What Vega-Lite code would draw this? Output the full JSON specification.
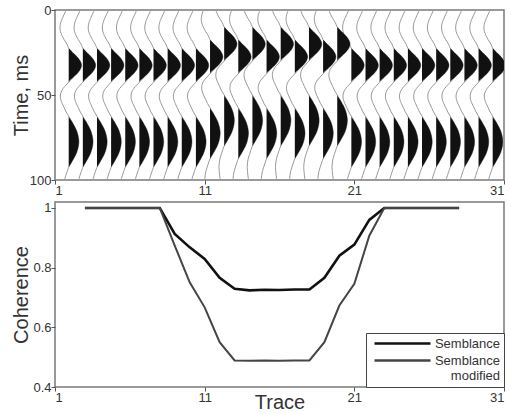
{
"$schema":"https://vega.github.io/schema/vega-lite/v6.json",
"background":"white",
"padding":{"left":10,"top":3,"right":0,"bottom":0},
"config":{"font":"Liberation Sans","view":{"stroke":"#7a7a7a","strokeWidth":1.5},
"axis":{"domain":false,"grid":false,"labelFont":"Liberation Sans","labelFontSize":13,"labelColor":"#333","tickColor":"#555","tickSize":4,"labelPadding":0,"titleFont":"Liberation Sans","titleFontSize":20,"titleFontWeight":"normal","titleColor":"#333"}},
"datasets":{
"c":[
{"u":3,"s":"Semblance","v":1},{"u":4,"s":"Semblance","v":1},{"u":5,"s":"Semblance","v":1},{"u":6,"s":"Semblance","v":1},{"u":7,"s":"Semblance","v":1},{"u":8,"s":"Semblance","v":1},{"u":9,"s":"Semblance","v":0.913},{"u":10,"s":"Semblance","v":0.868},{"u":11,"s":"Semblance","v":0.829},{"u":12,"s":"Semblance","v":0.766},{"u":13,"s":"Semblance","v":0.729},{"u":14,"s":"Semblance","v":0.724},{"u":15,"s":"Semblance","v":0.726},{"u":16,"s":"Semblance","v":0.725},{"u":17,"s":"Semblance","v":0.727},{"u":18,"s":"Semblance","v":0.727},{"u":19,"s":"Semblance","v":0.766},{"u":20,"s":"Semblance","v":0.84},{"u":21,"s":"Semblance","v":0.877},{"u":22,"s":"Semblance","v":0.96},{"u":23,"s":"Semblance","v":1},{"u":24,"s":"Semblance","v":1},{"u":25,"s":"Semblance","v":1},{"u":26,"s":"Semblance","v":1},{"u":27,"s":"Semblance","v":1},{"u":28,"s":"Semblance","v":1},
{"u":3,"s":"Semblance modified","v":1},{"u":4,"s":"Semblance modified","v":1},{"u":5,"s":"Semblance modified","v":1},{"u":6,"s":"Semblance modified","v":1},{"u":7,"s":"Semblance modified","v":1},{"u":8,"s":"Semblance modified","v":1},{"u":9,"s":"Semblance modified","v":0.874},{"u":10,"s":"Semblance modified","v":0.751},{"u":11,"s":"Semblance modified","v":0.667},{"u":12,"s":"Semblance modified","v":0.55},{"u":13,"s":"Semblance modified","v":0.489},{"u":14,"s":"Semblance modified","v":0.488},{"u":15,"s":"Semblance modified","v":0.489},{"u":16,"s":"Semblance modified","v":0.488},{"u":17,"s":"Semblance modified","v":0.489},{"u":18,"s":"Semblance modified","v":0.489},{"u":19,"s":"Semblance modified","v":0.55},{"u":20,"s":"Semblance modified","v":0.673},{"u":21,"s":"Semblance modified","v":0.746},{"u":22,"s":"Semblance modified","v":0.907},{"u":23,"s":"Semblance modified","v":1},{"u":24,"s":"Semblance modified","v":1},{"u":25,"s":"Semblance modified","v":1},{"u":26,"s":"Semblance modified","v":1},{"u":27,"s":"Semblance modified","v":1},{"u":28,"s":"Semblance modified","v":1}
],
"w":[
{"k":1,"t":0,"x":0.82},{"k":1,"t":2.5,"x":0.68},{"k":1,"t":5,"x":0.54},{"k":1,"t":7.5,"x":0.43},{"k":1,"t":10,"x":0.38},{"k":1,"t":12.5,"x":0.41},{"k":1,"t":15,"x":0.52},{"k":1,"t":17.5,"x":0.68},{"k":1,"t":20,"x":0.87},{"k":1,"t":22.5,"x":1},{"k":1,"t":25,"x":1.28},{"k":1,"t":27.5,"x":1.59},{"k":1,"t":30,"x":1.81},{"k":1,"t":32.5,"x":1.91},{"k":1,"t":35,"x":1.82},{"k":1,"t":37.5,"x":1.59},{"k":1,"t":40,"x":1.27},{"k":1,"t":42.5,"x":1},{"k":1,"t":45,"x":0.72},{"k":1,"t":47.5,"x":0.5},{"k":1,"t":50,"x":0.41},{"k":1,"t":52.5,"x":0.43},{"k":1,"t":55,"x":0.54},{"k":1,"t":57.5,"x":0.68},{"k":1,"t":60,"x":0.82},{"k":1,"t":62.5,"x":1},{"k":1,"t":65,"x":1.18},{"k":1,"t":67.5,"x":1.35},{"k":1,"t":70,"x":1.51},{"k":1,"t":72.5,"x":1.62},{"k":1,"t":75,"x":1.69},{"k":1,"t":77.5,"x":1.72},{"k":1,"t":80,"x":1.69},{"k":1,"t":82.5,"x":1.62},{"k":1,"t":85,"x":1.51},{"k":1,"t":87.5,"x":1.35},{"k":1,"t":90,"x":1.18},{"k":1,"t":92.5,"x":1},{"k":1,"t":95,"x":0.89},{"k":1,"t":97.5,"x":0.79},{"k":1,"t":100,"x":0.7},
{"k":2,"t":0,"x":1.82},{"k":2,"t":2.5,"x":1.68},{"k":2,"t":5,"x":1.54},{"k":2,"t":7.5,"x":1.43},{"k":2,"t":10,"x":1.38},{"k":2,"t":12.5,"x":1.41},{"k":2,"t":15,"x":1.52},{"k":2,"t":17.5,"x":1.68},{"k":2,"t":20,"x":1.87},{"k":2,"t":22.5,"x":2},{"k":2,"t":25,"x":2.28},{"k":2,"t":27.5,"x":2.59},{"k":2,"t":30,"x":2.81},{"k":2,"t":32.5,"x":2.91},{"k":2,"t":35,"x":2.82},{"k":2,"t":37.5,"x":2.59},{"k":2,"t":40,"x":2.27},{"k":2,"t":42.5,"x":2},{"k":2,"t":45,"x":1.72},{"k":2,"t":47.5,"x":1.5},{"k":2,"t":50,"x":1.41},{"k":2,"t":52.5,"x":1.43},{"k":2,"t":55,"x":1.54},{"k":2,"t":57.5,"x":1.68},{"k":2,"t":60,"x":1.82},{"k":2,"t":62.5,"x":2},{"k":2,"t":65,"x":2.18},{"k":2,"t":67.5,"x":2.35},{"k":2,"t":70,"x":2.51},{"k":2,"t":72.5,"x":2.62},{"k":2,"t":75,"x":2.69},{"k":2,"t":77.5,"x":2.72},{"k":2,"t":80,"x":2.69},{"k":2,"t":82.5,"x":2.62},{"k":2,"t":85,"x":2.51},{"k":2,"t":87.5,"x":2.35},{"k":2,"t":90,"x":2.18},{"k":2,"t":92.5,"x":2},{"k":2,"t":95,"x":1.89},{"k":2,"t":97.5,"x":1.79},{"k":2,"t":100,"x":1.7},
{"k":3,"t":0,"x":2.82},{"k":3,"t":2.5,"x":2.68},{"k":3,"t":5,"x":2.54},{"k":3,"t":7.5,"x":2.43},{"k":3,"t":10,"x":2.38},{"k":3,"t":12.5,"x":2.41},{"k":3,"t":15,"x":2.52},{"k":3,"t":17.5,"x":2.68},{"k":3,"t":20,"x":2.87},{"k":3,"t":22.5,"x":3},{"k":3,"t":25,"x":3.28},{"k":3,"t":27.5,"x":3.59},{"k":3,"t":30,"x":3.81},{"k":3,"t":32.5,"x":3.91},{"k":3,"t":35,"x":3.82},{"k":3,"t":37.5,"x":3.59},{"k":3,"t":40,"x":3.27},{"k":3,"t":42.5,"x":3},{"k":3,"t":45,"x":2.72},{"k":3,"t":47.5,"x":2.5},{"k":3,"t":50,"x":2.41},{"k":3,"t":52.5,"x":2.43},{"k":3,"t":55,"x":2.54},{"k":3,"t":57.5,"x":2.68},{"k":3,"t":60,"x":2.82},{"k":3,"t":62.5,"x":3},{"k":3,"t":65,"x":3.18},{"k":3,"t":67.5,"x":3.35},{"k":3,"t":70,"x":3.51},{"k":3,"t":72.5,"x":3.62},{"k":3,"t":75,"x":3.69},{"k":3,"t":77.5,"x":3.72},{"k":3,"t":80,"x":3.69},{"k":3,"t":82.5,"x":3.62},{"k":3,"t":85,"x":3.51},{"k":3,"t":87.5,"x":3.35},{"k":3,"t":90,"x":3.18},{"k":3,"t":92.5,"x":3},{"k":3,"t":95,"x":2.89},{"k":3,"t":97.5,"x":2.79},{"k":3,"t":100,"x":2.7},
{"k":4,"t":0,"x":3.82},{"k":4,"t":2.5,"x":3.68},{"k":4,"t":5,"x":3.54},{"k":4,"t":7.5,"x":3.43},{"k":4,"t":10,"x":3.38},{"k":4,"t":12.5,"x":3.41},{"k":4,"t":15,"x":3.52},{"k":4,"t":17.5,"x":3.68},{"k":4,"t":20,"x":3.87},{"k":4,"t":22.5,"x":4},{"k":4,"t":25,"x":4.28},{"k":4,"t":27.5,"x":4.59},{"k":4,"t":30,"x":4.81},{"k":4,"t":32.5,"x":4.91},{"k":4,"t":35,"x":4.82},{"k":4,"t":37.5,"x":4.59},{"k":4,"t":40,"x":4.27},{"k":4,"t":42.5,"x":4},{"k":4,"t":45,"x":3.72},{"k":4,"t":47.5,"x":3.5},{"k":4,"t":50,"x":3.41},{"k":4,"t":52.5,"x":3.43},{"k":4,"t":55,"x":3.54},{"k":4,"t":57.5,"x":3.68},{"k":4,"t":60,"x":3.82},{"k":4,"t":62.5,"x":4},{"k":4,"t":65,"x":4.18},{"k":4,"t":67.5,"x":4.35},{"k":4,"t":70,"x":4.51},{"k":4,"t":72.5,"x":4.62},{"k":4,"t":75,"x":4.69},{"k":4,"t":77.5,"x":4.72},{"k":4,"t":80,"x":4.69},{"k":4,"t":82.5,"x":4.62},{"k":4,"t":85,"x":4.51},{"k":4,"t":87.5,"x":4.35},{"k":4,"t":90,"x":4.18},{"k":4,"t":92.5,"x":4},{"k":4,"t":95,"x":3.89},{"k":4,"t":97.5,"x":3.79},{"k":4,"t":100,"x":3.7},
{"k":5,"t":0,"x":4.82},{"k":5,"t":2.5,"x":4.68},{"k":5,"t":5,"x":4.54},{"k":5,"t":7.5,"x":4.43},{"k":5,"t":10,"x":4.38},{"k":5,"t":12.5,"x":4.41},{"k":5,"t":15,"x":4.52},{"k":5,"t":17.5,"x":4.68},{"k":5,"t":20,"x":4.87},{"k":5,"t":22.5,"x":5},{"k":5,"t":25,"x":5.28},{"k":5,"t":27.5,"x":5.59},{"k":5,"t":30,"x":5.81},{"k":5,"t":32.5,"x":5.91},{"k":5,"t":35,"x":5.82},{"k":5,"t":37.5,"x":5.59},{"k":5,"t":40,"x":5.27},{"k":5,"t":42.5,"x":5},{"k":5,"t":45,"x":4.72},{"k":5,"t":47.5,"x":4.5},{"k":5,"t":50,"x":4.41},{"k":5,"t":52.5,"x":4.43},{"k":5,"t":55,"x":4.54},{"k":5,"t":57.5,"x":4.68},{"k":5,"t":60,"x":4.82},{"k":5,"t":62.5,"x":5},{"k":5,"t":65,"x":5.18},{"k":5,"t":67.5,"x":5.35},{"k":5,"t":70,"x":5.51},{"k":5,"t":72.5,"x":5.62},{"k":5,"t":75,"x":5.69},{"k":5,"t":77.5,"x":5.72},{"k":5,"t":80,"x":5.69},{"k":5,"t":82.5,"x":5.62},{"k":5,"t":85,"x":5.51},{"k":5,"t":87.5,"x":5.35},{"k":5,"t":90,"x":5.18},{"k":5,"t":92.5,"x":5},{"k":5,"t":95,"x":4.89},{"k":5,"t":97.5,"x":4.79},{"k":5,"t":100,"x":4.7},
{"k":6,"t":0,"x":5.82},{"k":6,"t":2.5,"x":5.68},{"k":6,"t":5,"x":5.54},{"k":6,"t":7.5,"x":5.43},{"k":6,"t":10,"x":5.38},{"k":6,"t":12.5,"x":5.41},{"k":6,"t":15,"x":5.52},{"k":6,"t":17.5,"x":5.68},{"k":6,"t":20,"x":5.87},{"k":6,"t":22.5,"x":6},{"k":6,"t":25,"x":6.28},{"k":6,"t":27.5,"x":6.59},{"k":6,"t":30,"x":6.81},{"k":6,"t":32.5,"x":6.91},{"k":6,"t":35,"x":6.82},{"k":6,"t":37.5,"x":6.59},{"k":6,"t":40,"x":6.27},{"k":6,"t":42.5,"x":6},{"k":6,"t":45,"x":5.72},{"k":6,"t":47.5,"x":5.5},{"k":6,"t":50,"x":5.41},{"k":6,"t":52.5,"x":5.43},{"k":6,"t":55,"x":5.54},{"k":6,"t":57.5,"x":5.68},{"k":6,"t":60,"x":5.82},{"k":6,"t":62.5,"x":6},{"k":6,"t":65,"x":6.18},{"k":6,"t":67.5,"x":6.35},{"k":6,"t":70,"x":6.51},{"k":6,"t":72.5,"x":6.62},{"k":6,"t":75,"x":6.69},{"k":6,"t":77.5,"x":6.72},{"k":6,"t":80,"x":6.69},{"k":6,"t":82.5,"x":6.62},{"k":6,"t":85,"x":6.51},{"k":6,"t":87.5,"x":6.35},{"k":6,"t":90,"x":6.18},{"k":6,"t":92.5,"x":6},{"k":6,"t":95,"x":5.89},{"k":6,"t":97.5,"x":5.79},{"k":6,"t":100,"x":5.7},
{"k":7,"t":0,"x":6.82},{"k":7,"t":2.5,"x":6.68},{"k":7,"t":5,"x":6.54},{"k":7,"t":7.5,"x":6.43},{"k":7,"t":10,"x":6.38},{"k":7,"t":12.5,"x":6.41},{"k":7,"t":15,"x":6.52},{"k":7,"t":17.5,"x":6.68},{"k":7,"t":20,"x":6.87},{"k":7,"t":22.5,"x":7},{"k":7,"t":25,"x":7.28},{"k":7,"t":27.5,"x":7.59},{"k":7,"t":30,"x":7.81},{"k":7,"t":32.5,"x":7.91},{"k":7,"t":35,"x":7.82},{"k":7,"t":37.5,"x":7.59},{"k":7,"t":40,"x":7.27},{"k":7,"t":42.5,"x":7},{"k":7,"t":45,"x":6.72},{"k":7,"t":47.5,"x":6.5},{"k":7,"t":50,"x":6.41},{"k":7,"t":52.5,"x":6.43},{"k":7,"t":55,"x":6.54},{"k":7,"t":57.5,"x":6.68},{"k":7,"t":60,"x":6.82},{"k":7,"t":62.5,"x":7},{"k":7,"t":65,"x":7.18},{"k":7,"t":67.5,"x":7.35},{"k":7,"t":70,"x":7.51},{"k":7,"t":72.5,"x":7.62},{"k":7,"t":75,"x":7.69},{"k":7,"t":77.5,"x":7.72},{"k":7,"t":80,"x":7.69},{"k":7,"t":82.5,"x":7.62},{"k":7,"t":85,"x":7.51},{"k":7,"t":87.5,"x":7.35},{"k":7,"t":90,"x":7.18},{"k":7,"t":92.5,"x":7},{"k":7,"t":95,"x":6.89},{"k":7,"t":97.5,"x":6.79},{"k":7,"t":100,"x":6.7},
{"k":8,"t":0,"x":7.82},{"k":8,"t":2.5,"x":7.68},{"k":8,"t":5,"x":7.54},{"k":8,"t":7.5,"x":7.43},{"k":8,"t":10,"x":7.38},{"k":8,"t":12.5,"x":7.41},{"k":8,"t":15,"x":7.52},{"k":8,"t":17.5,"x":7.68},{"k":8,"t":20,"x":7.87},{"k":8,"t":22.5,"x":8},{"k":8,"t":25,"x":8.28},{"k":8,"t":27.5,"x":8.59},{"k":8,"t":30,"x":8.81},{"k":8,"t":32.5,"x":8.91},{"k":8,"t":35,"x":8.82},{"k":8,"t":37.5,"x":8.59},{"k":8,"t":40,"x":8.27},{"k":8,"t":42.5,"x":8},{"k":8,"t":45,"x":7.72},{"k":8,"t":47.5,"x":7.5},{"k":8,"t":50,"x":7.41},{"k":8,"t":52.5,"x":7.43},{"k":8,"t":55,"x":7.54},{"k":8,"t":57.5,"x":7.68},{"k":8,"t":60,"x":7.82},{"k":8,"t":62.5,"x":8},{"k":8,"t":65,"x":8.18},{"k":8,"t":67.5,"x":8.35},{"k":8,"t":70,"x":8.51},{"k":8,"t":72.5,"x":8.62},{"k":8,"t":75,"x":8.69},{"k":8,"t":77.5,"x":8.72},{"k":8,"t":80,"x":8.69},{"k":8,"t":82.5,"x":8.62},{"k":8,"t":85,"x":8.51},{"k":8,"t":87.5,"x":8.35},{"k":8,"t":90,"x":8.18},{"k":8,"t":92.5,"x":8},{"k":8,"t":95,"x":7.89},{"k":8,"t":97.5,"x":7.79},{"k":8,"t":100,"x":7.7},
{"k":9,"t":0,"x":8.82},{"k":9,"t":2.5,"x":8.68},{"k":9,"t":5,"x":8.54},{"k":9,"t":7.5,"x":8.43},{"k":9,"t":10,"x":8.38},{"k":9,"t":12.5,"x":8.41},{"k":9,"t":15,"x":8.52},{"k":9,"t":17.5,"x":8.68},{"k":9,"t":20,"x":8.87},{"k":9,"t":22.5,"x":9},{"k":9,"t":25,"x":9.28},{"k":9,"t":27.5,"x":9.59},{"k":9,"t":30,"x":9.81},{"k":9,"t":32.5,"x":9.91},{"k":9,"t":35,"x":9.82},{"k":9,"t":37.5,"x":9.59},{"k":9,"t":40,"x":9.27},{"k":9,"t":42.5,"x":9},{"k":9,"t":45,"x":8.72},{"k":9,"t":47.5,"x":8.5},{"k":9,"t":50,"x":8.41},{"k":9,"t":52.5,"x":8.43},{"k":9,"t":55,"x":8.54},{"k":9,"t":57.5,"x":8.68},{"k":9,"t":60,"x":8.82},{"k":9,"t":62.5,"x":9},{"k":9,"t":65,"x":9.18},{"k":9,"t":67.5,"x":9.35},{"k":9,"t":70,"x":9.51},{"k":9,"t":72.5,"x":9.62},{"k":9,"t":75,"x":9.69},{"k":9,"t":77.5,"x":9.72},{"k":9,"t":80,"x":9.69},{"k":9,"t":82.5,"x":9.62},{"k":9,"t":85,"x":9.51},{"k":9,"t":87.5,"x":9.35},{"k":9,"t":90,"x":9.18},{"k":9,"t":92.5,"x":9},{"k":9,"t":95,"x":8.89},{"k":9,"t":97.5,"x":8.79},{"k":9,"t":100,"x":8.7},
{"k":10,"t":0,"x":9.82},{"k":10,"t":2.5,"x":9.68},{"k":10,"t":5,"x":9.54},{"k":10,"t":7.5,"x":9.43},{"k":10,"t":10,"x":9.38},{"k":10,"t":12.5,"x":9.41},{"k":10,"t":15,"x":9.52},{"k":10,"t":17.5,"x":9.68},{"k":10,"t":20,"x":9.87},{"k":10,"t":22.5,"x":10},{"k":10,"t":25,"x":10.28},{"k":10,"t":27.5,"x":10.59},{"k":10,"t":30,"x":10.81},{"k":10,"t":32.5,"x":10.91},{"k":10,"t":35,"x":10.82},{"k":10,"t":37.5,"x":10.59},{"k":10,"t":40,"x":10.27},{"k":10,"t":42.5,"x":10},{"k":10,"t":45,"x":9.72},{"k":10,"t":47.5,"x":9.5},{"k":10,"t":50,"x":9.41},{"k":10,"t":52.5,"x":9.43},{"k":10,"t":55,"x":9.54},{"k":10,"t":57.5,"x":9.68},{"k":10,"t":60,"x":9.82},{"k":10,"t":62.5,"x":10},{"k":10,"t":65,"x":10.18},{"k":10,"t":67.5,"x":10.35},{"k":10,"t":70,"x":10.51},{"k":10,"t":72.5,"x":10.62},{"k":10,"t":75,"x":10.69},{"k":10,"t":77.5,"x":10.72},{"k":10,"t":80,"x":10.69},{"k":10,"t":82.5,"x":10.62},{"k":10,"t":85,"x":10.51},{"k":10,"t":87.5,"x":10.35},{"k":10,"t":90,"x":10.18},{"k":10,"t":92.5,"x":10},{"k":10,"t":95,"x":9.89},{"k":10,"t":97.5,"x":9.79},{"k":10,"t":100,"x":9.7},
{"k":11,"t":0,"x":10.54},{"k":11,"t":2.5,"x":10.43},{"k":11,"t":5,"x":10.38},{"k":11,"t":7.5,"x":10.41},{"k":11,"t":10,"x":10.52},{"k":11,"t":12.5,"x":10.68},{"k":11,"t":15,"x":10.87},{"k":11,"t":17.5,"x":11},{"k":11,"t":20,"x":11.28},{"k":11,"t":22.5,"x":11.59},{"k":11,"t":25,"x":11.81},{"k":11,"t":27.5,"x":11.91},{"k":11,"t":30,"x":11.82},{"k":11,"t":32.5,"x":11.59},{"k":11,"t":35,"x":11.27},{"k":11,"t":37.5,"x":11},{"k":11,"t":40,"x":10.72},{"k":11,"t":42.5,"x":10.5},{"k":11,"t":45,"x":10.41},{"k":11,"t":47.5,"x":10.43},{"k":11,"t":50,"x":10.54},{"k":11,"t":52.5,"x":10.68},{"k":11,"t":55,"x":10.82},{"k":11,"t":57.5,"x":11},{"k":11,"t":60,"x":11.18},{"k":11,"t":62.5,"x":11.35},{"k":11,"t":65,"x":11.51},{"k":11,"t":67.5,"x":11.62},{"k":11,"t":70,"x":11.69},{"k":11,"t":72.5,"x":11.72},{"k":11,"t":75,"x":11.69},{"k":11,"t":77.5,"x":11.62},{"k":11,"t":80,"x":11.51},{"k":11,"t":82.5,"x":11.35},{"k":11,"t":85,"x":11.18},{"k":11,"t":87.5,"x":11},{"k":11,"t":90,"x":10.89},{"k":11,"t":92.5,"x":10.79},{"k":11,"t":95,"x":10.7},{"k":11,"t":97.5,"x":10.65},{"k":11,"t":100,"x":10.63},
{"k":12,"t":0,"x":11.41},{"k":12,"t":2.5,"x":11.52},{"k":12,"t":5,"x":11.68},{"k":12,"t":7.5,"x":11.87},{"k":12,"t":10,"x":12},{"k":12,"t":12.5,"x":12.28},{"k":12,"t":15,"x":12.59},{"k":12,"t":17.5,"x":12.81},{"k":12,"t":20,"x":12.91},{"k":12,"t":22.5,"x":12.82},{"k":12,"t":25,"x":12.59},{"k":12,"t":27.5,"x":12.27},{"k":12,"t":30,"x":12},{"k":12,"t":32.5,"x":11.72},{"k":12,"t":35,"x":11.5},{"k":12,"t":37.5,"x":11.41},{"k":12,"t":40,"x":11.43},{"k":12,"t":42.5,"x":11.54},{"k":12,"t":45,"x":11.68},{"k":12,"t":47.5,"x":11.82},{"k":12,"t":50,"x":12},{"k":12,"t":52.5,"x":12.18},{"k":12,"t":55,"x":12.35},{"k":12,"t":57.5,"x":12.51},{"k":12,"t":60,"x":12.62},{"k":12,"t":62.5,"x":12.69},{"k":12,"t":65,"x":12.72},{"k":12,"t":67.5,"x":12.69},{"k":12,"t":70,"x":12.62},{"k":12,"t":72.5,"x":12.51},{"k":12,"t":75,"x":12.35},{"k":12,"t":77.5,"x":12.18},{"k":12,"t":80,"x":12},{"k":12,"t":82.5,"x":11.89},{"k":12,"t":85,"x":11.79},{"k":12,"t":87.5,"x":11.7},{"k":12,"t":90,"x":11.65},{"k":12,"t":92.5,"x":11.63},{"k":12,"t":95,"x":11.65},{"k":12,"t":97.5,"x":11.68},{"k":12,"t":100,"x":11.73},
{"k":13,"t":0,"x":12.54},{"k":13,"t":2.5,"x":12.43},{"k":13,"t":5,"x":12.38},{"k":13,"t":7.5,"x":12.41},{"k":13,"t":10,"x":12.52},{"k":13,"t":12.5,"x":12.68},{"k":13,"t":15,"x":12.87},{"k":13,"t":17.5,"x":13},{"k":13,"t":20,"x":13.28},{"k":13,"t":22.5,"x":13.59},{"k":13,"t":25,"x":13.81},{"k":13,"t":27.5,"x":13.91},{"k":13,"t":30,"x":13.82},{"k":13,"t":32.5,"x":13.59},{"k":13,"t":35,"x":13.27},{"k":13,"t":37.5,"x":13},{"k":13,"t":40,"x":12.72},{"k":13,"t":42.5,"x":12.5},{"k":13,"t":45,"x":12.41},{"k":13,"t":47.5,"x":12.43},{"k":13,"t":50,"x":12.54},{"k":13,"t":52.5,"x":12.68},{"k":13,"t":55,"x":12.82},{"k":13,"t":57.5,"x":13},{"k":13,"t":60,"x":13.18},{"k":13,"t":62.5,"x":13.35},{"k":13,"t":65,"x":13.51},{"k":13,"t":67.5,"x":13.62},{"k":13,"t":70,"x":13.69},{"k":13,"t":72.5,"x":13.72},{"k":13,"t":75,"x":13.69},{"k":13,"t":77.5,"x":13.62},{"k":13,"t":80,"x":13.51},{"k":13,"t":82.5,"x":13.35},{"k":13,"t":85,"x":13.18},{"k":13,"t":87.5,"x":13},{"k":13,"t":90,"x":12.89},{"k":13,"t":92.5,"x":12.79},{"k":13,"t":95,"x":12.7},{"k":13,"t":97.5,"x":12.65},{"k":13,"t":100,"x":12.63},
{"k":14,"t":0,"x":13.41},{"k":14,"t":2.5,"x":13.52},{"k":14,"t":5,"x":13.68},{"k":14,"t":7.5,"x":13.87},{"k":14,"t":10,"x":14},{"k":14,"t":12.5,"x":14.28},{"k":14,"t":15,"x":14.59},{"k":14,"t":17.5,"x":14.81},{"k":14,"t":20,"x":14.91},{"k":14,"t":22.5,"x":14.82},{"k":14,"t":25,"x":14.59},{"k":14,"t":27.5,"x":14.27},{"k":14,"t":30,"x":14},{"k":14,"t":32.5,"x":13.72},{"k":14,"t":35,"x":13.5},{"k":14,"t":37.5,"x":13.41},{"k":14,"t":40,"x":13.43},{"k":14,"t":42.5,"x":13.54},{"k":14,"t":45,"x":13.68},{"k":14,"t":47.5,"x":13.82},{"k":14,"t":50,"x":14},{"k":14,"t":52.5,"x":14.18},{"k":14,"t":55,"x":14.35},{"k":14,"t":57.5,"x":14.51},{"k":14,"t":60,"x":14.62},{"k":14,"t":62.5,"x":14.69},{"k":14,"t":65,"x":14.72},{"k":14,"t":67.5,"x":14.69},{"k":14,"t":70,"x":14.62},{"k":14,"t":72.5,"x":14.51},{"k":14,"t":75,"x":14.35},{"k":14,"t":77.5,"x":14.18},{"k":14,"t":80,"x":14},{"k":14,"t":82.5,"x":13.89},{"k":14,"t":85,"x":13.79},{"k":14,"t":87.5,"x":13.7},{"k":14,"t":90,"x":13.65},{"k":14,"t":92.5,"x":13.63},{"k":14,"t":95,"x":13.65},{"k":14,"t":97.5,"x":13.68},{"k":14,"t":100,"x":13.73},
{"k":15,"t":0,"x":14.54},{"k":15,"t":2.5,"x":14.43},{"k":15,"t":5,"x":14.38},{"k":15,"t":7.5,"x":14.41},{"k":15,"t":10,"x":14.52},{"k":15,"t":12.5,"x":14.68},{"k":15,"t":15,"x":14.87},{"k":15,"t":17.5,"x":15},{"k":15,"t":20,"x":15.28},{"k":15,"t":22.5,"x":15.59},{"k":15,"t":25,"x":15.81},{"k":15,"t":27.5,"x":15.91},{"k":15,"t":30,"x":15.82},{"k":15,"t":32.5,"x":15.59},{"k":15,"t":35,"x":15.27},{"k":15,"t":37.5,"x":15},{"k":15,"t":40,"x":14.72},{"k":15,"t":42.5,"x":14.5},{"k":15,"t":45,"x":14.41},{"k":15,"t":47.5,"x":14.43},{"k":15,"t":50,"x":14.54},{"k":15,"t":52.5,"x":14.68},{"k":15,"t":55,"x":14.82},{"k":15,"t":57.5,"x":15},{"k":15,"t":60,"x":15.18},{"k":15,"t":62.5,"x":15.35},{"k":15,"t":65,"x":15.51},{"k":15,"t":67.5,"x":15.62},{"k":15,"t":70,"x":15.69},{"k":15,"t":72.5,"x":15.72},{"k":15,"t":75,"x":15.69},{"k":15,"t":77.5,"x":15.62},{"k":15,"t":80,"x":15.51},{"k":15,"t":82.5,"x":15.35},{"k":15,"t":85,"x":15.18},{"k":15,"t":87.5,"x":15},{"k":15,"t":90,"x":14.89},{"k":15,"t":92.5,"x":14.79},{"k":15,"t":95,"x":14.7},{"k":15,"t":97.5,"x":14.65},{"k":15,"t":100,"x":14.63},
{"k":16,"t":0,"x":15.41},{"k":16,"t":2.5,"x":15.52},{"k":16,"t":5,"x":15.68},{"k":16,"t":7.5,"x":15.87},{"k":16,"t":10,"x":16},{"k":16,"t":12.5,"x":16.28},{"k":16,"t":15,"x":16.59},{"k":16,"t":17.5,"x":16.81},{"k":16,"t":20,"x":16.91},{"k":16,"t":22.5,"x":16.82},{"k":16,"t":25,"x":16.59},{"k":16,"t":27.5,"x":16.27},{"k":16,"t":30,"x":16},{"k":16,"t":32.5,"x":15.72},{"k":16,"t":35,"x":15.5},{"k":16,"t":37.5,"x":15.41},{"k":16,"t":40,"x":15.43},{"k":16,"t":42.5,"x":15.54},{"k":16,"t":45,"x":15.68},{"k":16,"t":47.5,"x":15.82},{"k":16,"t":50,"x":16},{"k":16,"t":52.5,"x":16.18},{"k":16,"t":55,"x":16.35},{"k":16,"t":57.5,"x":16.51},{"k":16,"t":60,"x":16.62},{"k":16,"t":62.5,"x":16.69},{"k":16,"t":65,"x":16.72},{"k":16,"t":67.5,"x":16.69},{"k":16,"t":70,"x":16.62},{"k":16,"t":72.5,"x":16.51},{"k":16,"t":75,"x":16.35},{"k":16,"t":77.5,"x":16.18},{"k":16,"t":80,"x":16},{"k":16,"t":82.5,"x":15.89},{"k":16,"t":85,"x":15.79},{"k":16,"t":87.5,"x":15.7},{"k":16,"t":90,"x":15.65},{"k":16,"t":92.5,"x":15.63},{"k":16,"t":95,"x":15.65},{"k":16,"t":97.5,"x":15.68},{"k":16,"t":100,"x":15.73},
{"k":17,"t":0,"x":16.54},{"k":17,"t":2.5,"x":16.43},{"k":17,"t":5,"x":16.38},{"k":17,"t":7.5,"x":16.41},{"k":17,"t":10,"x":16.52},{"k":17,"t":12.5,"x":16.68},{"k":17,"t":15,"x":16.87},{"k":17,"t":17.5,"x":17},{"k":17,"t":20,"x":17.28},{"k":17,"t":22.5,"x":17.59},{"k":17,"t":25,"x":17.81},{"k":17,"t":27.5,"x":17.91},{"k":17,"t":30,"x":17.82},{"k":17,"t":32.5,"x":17.59},{"k":17,"t":35,"x":17.27},{"k":17,"t":37.5,"x":17},{"k":17,"t":40,"x":16.72},{"k":17,"t":42.5,"x":16.5},{"k":17,"t":45,"x":16.41},{"k":17,"t":47.5,"x":16.43},{"k":17,"t":50,"x":16.54},{"k":17,"t":52.5,"x":16.68},{"k":17,"t":55,"x":16.82},{"k":17,"t":57.5,"x":17},{"k":17,"t":60,"x":17.18},{"k":17,"t":62.5,"x":17.35},{"k":17,"t":65,"x":17.51},{"k":17,"t":67.5,"x":17.62},{"k":17,"t":70,"x":17.69},{"k":17,"t":72.5,"x":17.72},{"k":17,"t":75,"x":17.69},{"k":17,"t":77.5,"x":17.62},{"k":17,"t":80,"x":17.51},{"k":17,"t":82.5,"x":17.35},{"k":17,"t":85,"x":17.18},{"k":17,"t":87.5,"x":17},{"k":17,"t":90,"x":16.89},{"k":17,"t":92.5,"x":16.79},{"k":17,"t":95,"x":16.7},{"k":17,"t":97.5,"x":16.65},{"k":17,"t":100,"x":16.63},
{"k":18,"t":0,"x":17.41},{"k":18,"t":2.5,"x":17.52},{"k":18,"t":5,"x":17.68},{"k":18,"t":7.5,"x":17.87},{"k":18,"t":10,"x":18},{"k":18,"t":12.5,"x":18.28},{"k":18,"t":15,"x":18.59},{"k":18,"t":17.5,"x":18.81},{"k":18,"t":20,"x":18.91},{"k":18,"t":22.5,"x":18.82},{"k":18,"t":25,"x":18.59},{"k":18,"t":27.5,"x":18.27},{"k":18,"t":30,"x":18},{"k":18,"t":32.5,"x":17.72},{"k":18,"t":35,"x":17.5},{"k":18,"t":37.5,"x":17.41},{"k":18,"t":40,"x":17.43},{"k":18,"t":42.5,"x":17.54},{"k":18,"t":45,"x":17.68},{"k":18,"t":47.5,"x":17.82},{"k":18,"t":50,"x":18},{"k":18,"t":52.5,"x":18.18},{"k":18,"t":55,"x":18.35},{"k":18,"t":57.5,"x":18.51},{"k":18,"t":60,"x":18.62},{"k":18,"t":62.5,"x":18.69},{"k":18,"t":65,"x":18.72},{"k":18,"t":67.5,"x":18.69},{"k":18,"t":70,"x":18.62},{"k":18,"t":72.5,"x":18.51},{"k":18,"t":75,"x":18.35},{"k":18,"t":77.5,"x":18.18},{"k":18,"t":80,"x":18},{"k":18,"t":82.5,"x":17.89},{"k":18,"t":85,"x":17.79},{"k":18,"t":87.5,"x":17.7},{"k":18,"t":90,"x":17.65},{"k":18,"t":92.5,"x":17.63},{"k":18,"t":95,"x":17.65},{"k":18,"t":97.5,"x":17.68},{"k":18,"t":100,"x":17.73},
{"k":19,"t":0,"x":18.54},{"k":19,"t":2.5,"x":18.43},{"k":19,"t":5,"x":18.38},{"k":19,"t":7.5,"x":18.41},{"k":19,"t":10,"x":18.52},{"k":19,"t":12.5,"x":18.68},{"k":19,"t":15,"x":18.87},{"k":19,"t":17.5,"x":19},{"k":19,"t":20,"x":19.28},{"k":19,"t":22.5,"x":19.59},{"k":19,"t":25,"x":19.81},{"k":19,"t":27.5,"x":19.91},{"k":19,"t":30,"x":19.82},{"k":19,"t":32.5,"x":19.59},{"k":19,"t":35,"x":19.27},{"k":19,"t":37.5,"x":19},{"k":19,"t":40,"x":18.72},{"k":19,"t":42.5,"x":18.5},{"k":19,"t":45,"x":18.41},{"k":19,"t":47.5,"x":18.43},{"k":19,"t":50,"x":18.54},{"k":19,"t":52.5,"x":18.68},{"k":19,"t":55,"x":18.82},{"k":19,"t":57.5,"x":19},{"k":19,"t":60,"x":19.18},{"k":19,"t":62.5,"x":19.35},{"k":19,"t":65,"x":19.51},{"k":19,"t":67.5,"x":19.62},{"k":19,"t":70,"x":19.69},{"k":19,"t":72.5,"x":19.72},{"k":19,"t":75,"x":19.69},{"k":19,"t":77.5,"x":19.62},{"k":19,"t":80,"x":19.51},{"k":19,"t":82.5,"x":19.35},{"k":19,"t":85,"x":19.18},{"k":19,"t":87.5,"x":19},{"k":19,"t":90,"x":18.89},{"k":19,"t":92.5,"x":18.79},{"k":19,"t":95,"x":18.7},{"k":19,"t":97.5,"x":18.65},{"k":19,"t":100,"x":18.63},
{"k":20,"t":0,"x":19.41},{"k":20,"t":2.5,"x":19.52},{"k":20,"t":5,"x":19.68},{"k":20,"t":7.5,"x":19.87},{"k":20,"t":10,"x":20},{"k":20,"t":12.5,"x":20.28},{"k":20,"t":15,"x":20.59},{"k":20,"t":17.5,"x":20.81},{"k":20,"t":20,"x":20.91},{"k":20,"t":22.5,"x":20.82},{"k":20,"t":25,"x":20.59},{"k":20,"t":27.5,"x":20.27},{"k":20,"t":30,"x":20},{"k":20,"t":32.5,"x":19.72},{"k":20,"t":35,"x":19.5},{"k":20,"t":37.5,"x":19.41},{"k":20,"t":40,"x":19.43},{"k":20,"t":42.5,"x":19.54},{"k":20,"t":45,"x":19.68},{"k":20,"t":47.5,"x":19.82},{"k":20,"t":50,"x":20},{"k":20,"t":52.5,"x":20.18},{"k":20,"t":55,"x":20.35},{"k":20,"t":57.5,"x":20.51},{"k":20,"t":60,"x":20.62},{"k":20,"t":62.5,"x":20.69},{"k":20,"t":65,"x":20.72},{"k":20,"t":67.5,"x":20.69},{"k":20,"t":70,"x":20.62},{"k":20,"t":72.5,"x":20.51},{"k":20,"t":75,"x":20.35},{"k":20,"t":77.5,"x":20.18},{"k":20,"t":80,"x":20},{"k":20,"t":82.5,"x":19.89},{"k":20,"t":85,"x":19.79},{"k":20,"t":87.5,"x":19.7},{"k":20,"t":90,"x":19.65},{"k":20,"t":92.5,"x":19.63},{"k":20,"t":95,"x":19.65},{"k":20,"t":97.5,"x":19.68},{"k":20,"t":100,"x":19.73},
{"k":21,"t":0,"x":20.82},{"k":21,"t":2.5,"x":20.68},{"k":21,"t":5,"x":20.54},{"k":21,"t":7.5,"x":20.43},{"k":21,"t":10,"x":20.38},{"k":21,"t":12.5,"x":20.41},{"k":21,"t":15,"x":20.52},{"k":21,"t":17.5,"x":20.68},{"k":21,"t":20,"x":20.87},{"k":21,"t":22.5,"x":21},{"k":21,"t":25,"x":21.28},{"k":21,"t":27.5,"x":21.59},{"k":21,"t":30,"x":21.81},{"k":21,"t":32.5,"x":21.91},{"k":21,"t":35,"x":21.82},{"k":21,"t":37.5,"x":21.59},{"k":21,"t":40,"x":21.27},{"k":21,"t":42.5,"x":21},{"k":21,"t":45,"x":20.72},{"k":21,"t":47.5,"x":20.5},{"k":21,"t":50,"x":20.41},{"k":21,"t":52.5,"x":20.43},{"k":21,"t":55,"x":20.54},{"k":21,"t":57.5,"x":20.68},{"k":21,"t":60,"x":20.82},{"k":21,"t":62.5,"x":21},{"k":21,"t":65,"x":21.18},{"k":21,"t":67.5,"x":21.35},{"k":21,"t":70,"x":21.51},{"k":21,"t":72.5,"x":21.62},{"k":21,"t":75,"x":21.69},{"k":21,"t":77.5,"x":21.72},{"k":21,"t":80,"x":21.69},{"k":21,"t":82.5,"x":21.62},{"k":21,"t":85,"x":21.51},{"k":21,"t":87.5,"x":21.35},{"k":21,"t":90,"x":21.18},{"k":21,"t":92.5,"x":21},{"k":21,"t":95,"x":20.89},{"k":21,"t":97.5,"x":20.79},{"k":21,"t":100,"x":20.7},
{"k":22,"t":0,"x":21.82},{"k":22,"t":2.5,"x":21.68},{"k":22,"t":5,"x":21.54},{"k":22,"t":7.5,"x":21.43},{"k":22,"t":10,"x":21.38},{"k":22,"t":12.5,"x":21.41},{"k":22,"t":15,"x":21.52},{"k":22,"t":17.5,"x":21.68},{"k":22,"t":20,"x":21.87},{"k":22,"t":22.5,"x":22},{"k":22,"t":25,"x":22.28},{"k":22,"t":27.5,"x":22.59},{"k":22,"t":30,"x":22.81},{"k":22,"t":32.5,"x":22.91},{"k":22,"t":35,"x":22.82},{"k":22,"t":37.5,"x":22.59},{"k":22,"t":40,"x":22.27},{"k":22,"t":42.5,"x":22},{"k":22,"t":45,"x":21.72},{"k":22,"t":47.5,"x":21.5},{"k":22,"t":50,"x":21.41},{"k":22,"t":52.5,"x":21.43},{"k":22,"t":55,"x":21.54},{"k":22,"t":57.5,"x":21.68},{"k":22,"t":60,"x":21.82},{"k":22,"t":62.5,"x":22},{"k":22,"t":65,"x":22.18},{"k":22,"t":67.5,"x":22.35},{"k":22,"t":70,"x":22.51},{"k":22,"t":72.5,"x":22.62},{"k":22,"t":75,"x":22.69},{"k":22,"t":77.5,"x":22.72},{"k":22,"t":80,"x":22.69},{"k":22,"t":82.5,"x":22.62},{"k":22,"t":85,"x":22.51},{"k":22,"t":87.5,"x":22.35},{"k":22,"t":90,"x":22.18},{"k":22,"t":92.5,"x":22},{"k":22,"t":95,"x":21.89},{"k":22,"t":97.5,"x":21.79},{"k":22,"t":100,"x":21.7},
{"k":23,"t":0,"x":22.82},{"k":23,"t":2.5,"x":22.68},{"k":23,"t":5,"x":22.54},{"k":23,"t":7.5,"x":22.43},{"k":23,"t":10,"x":22.38},{"k":23,"t":12.5,"x":22.41},{"k":23,"t":15,"x":22.52},{"k":23,"t":17.5,"x":22.68},{"k":23,"t":20,"x":22.87},{"k":23,"t":22.5,"x":23},{"k":23,"t":25,"x":23.28},{"k":23,"t":27.5,"x":23.59},{"k":23,"t":30,"x":23.81},{"k":23,"t":32.5,"x":23.91},{"k":23,"t":35,"x":23.82},{"k":23,"t":37.5,"x":23.59},{"k":23,"t":40,"x":23.27},{"k":23,"t":42.5,"x":23},{"k":23,"t":45,"x":22.72},{"k":23,"t":47.5,"x":22.5},{"k":23,"t":50,"x":22.41},{"k":23,"t":52.5,"x":22.43},{"k":23,"t":55,"x":22.54},{"k":23,"t":57.5,"x":22.68},{"k":23,"t":60,"x":22.82},{"k":23,"t":62.5,"x":23},{"k":23,"t":65,"x":23.18},{"k":23,"t":67.5,"x":23.35},{"k":23,"t":70,"x":23.51},{"k":23,"t":72.5,"x":23.62},{"k":23,"t":75,"x":23.69},{"k":23,"t":77.5,"x":23.72},{"k":23,"t":80,"x":23.69},{"k":23,"t":82.5,"x":23.62},{"k":23,"t":85,"x":23.51},{"k":23,"t":87.5,"x":23.35},{"k":23,"t":90,"x":23.18},{"k":23,"t":92.5,"x":23},{"k":23,"t":95,"x":22.89},{"k":23,"t":97.5,"x":22.79},{"k":23,"t":100,"x":22.7},
{"k":24,"t":0,"x":23.82},{"k":24,"t":2.5,"x":23.68},{"k":24,"t":5,"x":23.54},{"k":24,"t":7.5,"x":23.43},{"k":24,"t":10,"x":23.38},{"k":24,"t":12.5,"x":23.41},{"k":24,"t":15,"x":23.52},{"k":24,"t":17.5,"x":23.68},{"k":24,"t":20,"x":23.87},{"k":24,"t":22.5,"x":24},{"k":24,"t":25,"x":24.28},{"k":24,"t":27.5,"x":24.59},{"k":24,"t":30,"x":24.81},{"k":24,"t":32.5,"x":24.91},{"k":24,"t":35,"x":24.82},{"k":24,"t":37.5,"x":24.59},{"k":24,"t":40,"x":24.27},{"k":24,"t":42.5,"x":24},{"k":24,"t":45,"x":23.72},{"k":24,"t":47.5,"x":23.5},{"k":24,"t":50,"x":23.41},{"k":24,"t":52.5,"x":23.43},{"k":24,"t":55,"x":23.54},{"k":24,"t":57.5,"x":23.68},{"k":24,"t":60,"x":23.82},{"k":24,"t":62.5,"x":24},{"k":24,"t":65,"x":24.18},{"k":24,"t":67.5,"x":24.35},{"k":24,"t":70,"x":24.51},{"k":24,"t":72.5,"x":24.62},{"k":24,"t":75,"x":24.69},{"k":24,"t":77.5,"x":24.72},{"k":24,"t":80,"x":24.69},{"k":24,"t":82.5,"x":24.62},{"k":24,"t":85,"x":24.51},{"k":24,"t":87.5,"x":24.35},{"k":24,"t":90,"x":24.18},{"k":24,"t":92.5,"x":24},{"k":24,"t":95,"x":23.89},{"k":24,"t":97.5,"x":23.79},{"k":24,"t":100,"x":23.7},
{"k":25,"t":0,"x":24.82},{"k":25,"t":2.5,"x":24.68},{"k":25,"t":5,"x":24.54},{"k":25,"t":7.5,"x":24.43},{"k":25,"t":10,"x":24.38},{"k":25,"t":12.5,"x":24.41},{"k":25,"t":15,"x":24.52},{"k":25,"t":17.5,"x":24.68},{"k":25,"t":20,"x":24.87},{"k":25,"t":22.5,"x":25},{"k":25,"t":25,"x":25.28},{"k":25,"t":27.5,"x":25.59},{"k":25,"t":30,"x":25.81},{"k":25,"t":32.5,"x":25.91},{"k":25,"t":35,"x":25.82},{"k":25,"t":37.5,"x":25.59},{"k":25,"t":40,"x":25.27},{"k":25,"t":42.5,"x":25},{"k":25,"t":45,"x":24.72},{"k":25,"t":47.5,"x":24.5},{"k":25,"t":50,"x":24.41},{"k":25,"t":52.5,"x":24.43},{"k":25,"t":55,"x":24.54},{"k":25,"t":57.5,"x":24.68},{"k":25,"t":60,"x":24.82},{"k":25,"t":62.5,"x":25},{"k":25,"t":65,"x":25.18},{"k":25,"t":67.5,"x":25.35},{"k":25,"t":70,"x":25.51},{"k":25,"t":72.5,"x":25.62},{"k":25,"t":75,"x":25.69},{"k":25,"t":77.5,"x":25.72},{"k":25,"t":80,"x":25.69},{"k":25,"t":82.5,"x":25.62},{"k":25,"t":85,"x":25.51},{"k":25,"t":87.5,"x":25.35},{"k":25,"t":90,"x":25.18},{"k":25,"t":92.5,"x":25},{"k":25,"t":95,"x":24.89},{"k":25,"t":97.5,"x":24.79},{"k":25,"t":100,"x":24.7},
{"k":26,"t":0,"x":25.82},{"k":26,"t":2.5,"x":25.68},{"k":26,"t":5,"x":25.54},{"k":26,"t":7.5,"x":25.43},{"k":26,"t":10,"x":25.38},{"k":26,"t":12.5,"x":25.41},{"k":26,"t":15,"x":25.52},{"k":26,"t":17.5,"x":25.68},{"k":26,"t":20,"x":25.87},{"k":26,"t":22.5,"x":26},{"k":26,"t":25,"x":26.28},{"k":26,"t":27.5,"x":26.59},{"k":26,"t":30,"x":26.81},{"k":26,"t":32.5,"x":26.91},{"k":26,"t":35,"x":26.82},{"k":26,"t":37.5,"x":26.59},{"k":26,"t":40,"x":26.27},{"k":26,"t":42.5,"x":26},{"k":26,"t":45,"x":25.72},{"k":26,"t":47.5,"x":25.5},{"k":26,"t":50,"x":25.41},{"k":26,"t":52.5,"x":25.43},{"k":26,"t":55,"x":25.54},{"k":26,"t":57.5,"x":25.68},{"k":26,"t":60,"x":25.82},{"k":26,"t":62.5,"x":26},{"k":26,"t":65,"x":26.18},{"k":26,"t":67.5,"x":26.35},{"k":26,"t":70,"x":26.51},{"k":26,"t":72.5,"x":26.62},{"k":26,"t":75,"x":26.69},{"k":26,"t":77.5,"x":26.72},{"k":26,"t":80,"x":26.69},{"k":26,"t":82.5,"x":26.62},{"k":26,"t":85,"x":26.51},{"k":26,"t":87.5,"x":26.35},{"k":26,"t":90,"x":26.18},{"k":26,"t":92.5,"x":26},{"k":26,"t":95,"x":25.89},{"k":26,"t":97.5,"x":25.79},{"k":26,"t":100,"x":25.7},
{"k":27,"t":0,"x":26.82},{"k":27,"t":2.5,"x":26.68},{"k":27,"t":5,"x":26.54},{"k":27,"t":7.5,"x":26.43},{"k":27,"t":10,"x":26.38},{"k":27,"t":12.5,"x":26.41},{"k":27,"t":15,"x":26.52},{"k":27,"t":17.5,"x":26.68},{"k":27,"t":20,"x":26.87},{"k":27,"t":22.5,"x":27},{"k":27,"t":25,"x":27.28},{"k":27,"t":27.5,"x":27.59},{"k":27,"t":30,"x":27.81},{"k":27,"t":32.5,"x":27.91},{"k":27,"t":35,"x":27.82},{"k":27,"t":37.5,"x":27.59},{"k":27,"t":40,"x":27.27},{"k":27,"t":42.5,"x":27},{"k":27,"t":45,"x":26.72},{"k":27,"t":47.5,"x":26.5},{"k":27,"t":50,"x":26.41},{"k":27,"t":52.5,"x":26.43},{"k":27,"t":55,"x":26.54},{"k":27,"t":57.5,"x":26.68},{"k":27,"t":60,"x":26.82},{"k":27,"t":62.5,"x":27},{"k":27,"t":65,"x":27.18},{"k":27,"t":67.5,"x":27.35},{"k":27,"t":70,"x":27.51},{"k":27,"t":72.5,"x":27.62},{"k":27,"t":75,"x":27.69},{"k":27,"t":77.5,"x":27.72},{"k":27,"t":80,"x":27.69},{"k":27,"t":82.5,"x":27.62},{"k":27,"t":85,"x":27.51},{"k":27,"t":87.5,"x":27.35},{"k":27,"t":90,"x":27.18},{"k":27,"t":92.5,"x":27},{"k":27,"t":95,"x":26.89},{"k":27,"t":97.5,"x":26.79},{"k":27,"t":100,"x":26.7},
{"k":28,"t":0,"x":27.82},{"k":28,"t":2.5,"x":27.68},{"k":28,"t":5,"x":27.54},{"k":28,"t":7.5,"x":27.43},{"k":28,"t":10,"x":27.38},{"k":28,"t":12.5,"x":27.41},{"k":28,"t":15,"x":27.52},{"k":28,"t":17.5,"x":27.68},{"k":28,"t":20,"x":27.87},{"k":28,"t":22.5,"x":28},{"k":28,"t":25,"x":28.28},{"k":28,"t":27.5,"x":28.59},{"k":28,"t":30,"x":28.81},{"k":28,"t":32.5,"x":28.91},{"k":28,"t":35,"x":28.82},{"k":28,"t":37.5,"x":28.59},{"k":28,"t":40,"x":28.27},{"k":28,"t":42.5,"x":28},{"k":28,"t":45,"x":27.72},{"k":28,"t":47.5,"x":27.5},{"k":28,"t":50,"x":27.41},{"k":28,"t":52.5,"x":27.43},{"k":28,"t":55,"x":27.54},{"k":28,"t":57.5,"x":27.68},{"k":28,"t":60,"x":27.82},{"k":28,"t":62.5,"x":28},{"k":28,"t":65,"x":28.18},{"k":28,"t":67.5,"x":28.35},{"k":28,"t":70,"x":28.51},{"k":28,"t":72.5,"x":28.62},{"k":28,"t":75,"x":28.69},{"k":28,"t":77.5,"x":28.72},{"k":28,"t":80,"x":28.69},{"k":28,"t":82.5,"x":28.62},{"k":28,"t":85,"x":28.51},{"k":28,"t":87.5,"x":28.35},{"k":28,"t":90,"x":28.18},{"k":28,"t":92.5,"x":28},{"k":28,"t":95,"x":27.89},{"k":28,"t":97.5,"x":27.79},{"k":28,"t":100,"x":27.7},
{"k":29,"t":0,"x":28.82},{"k":29,"t":2.5,"x":28.68},{"k":29,"t":5,"x":28.54},{"k":29,"t":7.5,"x":28.43},{"k":29,"t":10,"x":28.38},{"k":29,"t":12.5,"x":28.41},{"k":29,"t":15,"x":28.52},{"k":29,"t":17.5,"x":28.68},{"k":29,"t":20,"x":28.87},{"k":29,"t":22.5,"x":29},{"k":29,"t":25,"x":29.28},{"k":29,"t":27.5,"x":29.59},{"k":29,"t":30,"x":29.81},{"k":29,"t":32.5,"x":29.91},{"k":29,"t":35,"x":29.82},{"k":29,"t":37.5,"x":29.59},{"k":29,"t":40,"x":29.27},{"k":29,"t":42.5,"x":29},{"k":29,"t":45,"x":28.72},{"k":29,"t":47.5,"x":28.5},{"k":29,"t":50,"x":28.41},{"k":29,"t":52.5,"x":28.43},{"k":29,"t":55,"x":28.54},{"k":29,"t":57.5,"x":28.68},{"k":29,"t":60,"x":28.82},{"k":29,"t":62.5,"x":29},{"k":29,"t":65,"x":29.18},{"k":29,"t":67.5,"x":29.35},{"k":29,"t":70,"x":29.51},{"k":29,"t":72.5,"x":29.62},{"k":29,"t":75,"x":29.69},{"k":29,"t":77.5,"x":29.72},{"k":29,"t":80,"x":29.69},{"k":29,"t":82.5,"x":29.62},{"k":29,"t":85,"x":29.51},{"k":29,"t":87.5,"x":29.35},{"k":29,"t":90,"x":29.18},{"k":29,"t":92.5,"x":29},{"k":29,"t":95,"x":28.89},{"k":29,"t":97.5,"x":28.79},{"k":29,"t":100,"x":28.7},
{"k":30,"t":0,"x":29.82},{"k":30,"t":2.5,"x":29.68},{"k":30,"t":5,"x":29.54},{"k":30,"t":7.5,"x":29.43},{"k":30,"t":10,"x":29.38},{"k":30,"t":12.5,"x":29.41},{"k":30,"t":15,"x":29.52},{"k":30,"t":17.5,"x":29.68},{"k":30,"t":20,"x":29.87},{"k":30,"t":22.5,"x":30},{"k":30,"t":25,"x":30.28},{"k":30,"t":27.5,"x":30.59},{"k":30,"t":30,"x":30.81},{"k":30,"t":32.5,"x":30.91},{"k":30,"t":35,"x":30.82},{"k":30,"t":37.5,"x":30.59},{"k":30,"t":40,"x":30.27},{"k":30,"t":42.5,"x":30},{"k":30,"t":45,"x":29.72},{"k":30,"t":47.5,"x":29.5},{"k":30,"t":50,"x":29.41},{"k":30,"t":52.5,"x":29.43},{"k":30,"t":55,"x":29.54},{"k":30,"t":57.5,"x":29.68},{"k":30,"t":60,"x":29.82},{"k":30,"t":62.5,"x":30},{"k":30,"t":65,"x":30.18},{"k":30,"t":67.5,"x":30.35},{"k":30,"t":70,"x":30.51},{"k":30,"t":72.5,"x":30.62},{"k":30,"t":75,"x":30.69},{"k":30,"t":77.5,"x":30.72},{"k":30,"t":80,"x":30.69},{"k":30,"t":82.5,"x":30.62},{"k":30,"t":85,"x":30.51},{"k":30,"t":87.5,"x":30.35},{"k":30,"t":90,"x":30.18},{"k":30,"t":92.5,"x":30},{"k":30,"t":95,"x":29.89},{"k":30,"t":97.5,"x":29.79},{"k":30,"t":100,"x":29.7},
{"k":31,"t":0,"x":30.82},{"k":31,"t":2.5,"x":30.68},{"k":31,"t":5,"x":30.54},{"k":31,"t":7.5,"x":30.43},{"k":31,"t":10,"x":30.38},{"k":31,"t":12.5,"x":30.41},{"k":31,"t":15,"x":30.52},{"k":31,"t":17.5,"x":30.68},{"k":31,"t":20,"x":30.87},{"k":31,"t":22.5,"x":31},{"k":31,"t":25,"x":31.28},{"k":31,"t":27.5,"x":31.59},{"k":31,"t":30,"x":31.81},{"k":31,"t":32.5,"x":31.91},{"k":31,"t":35,"x":31.82},{"k":31,"t":37.5,"x":31.59},{"k":31,"t":40,"x":31.27},{"k":31,"t":42.5,"x":31},{"k":31,"t":45,"x":30.72},{"k":31,"t":47.5,"x":30.5},{"k":31,"t":50,"x":30.41},{"k":31,"t":52.5,"x":30.43},{"k":31,"t":55,"x":30.54},{"k":31,"t":57.5,"x":30.68},{"k":31,"t":60,"x":30.82},{"k":31,"t":62.5,"x":31},{"k":31,"t":65,"x":31.18},{"k":31,"t":67.5,"x":31.35},{"k":31,"t":70,"x":31.51},{"k":31,"t":72.5,"x":31.62},{"k":31,"t":75,"x":31.69},{"k":31,"t":77.5,"x":31.72},{"k":31,"t":80,"x":31.69},{"k":31,"t":82.5,"x":31.62},{"k":31,"t":85,"x":31.51},{"k":31,"t":87.5,"x":31.35},{"k":31,"t":90,"x":31.18},{"k":31,"t":92.5,"x":31},{"k":31,"t":95,"x":30.89},{"k":31,"t":97.5,"x":30.79},{"k":31,"t":100,"x":30.7}
]},
"spacing":22,
"bounds":"flush",
"resolve":{"legend":{"color":"independent"}},
"vconcat":[
{"width":449,"height":170,
"resolve":{"scale":{"x":"independent"}},
"layer":[
{"data":{"name":"w"},"mark":{"type":"line","interpolate":"catmull-rom","stroke":"#9a9a9a","strokeWidth":1,"clip":true},
"encoding":{"x":{"field":"x","type":"quantitative","scale":{"domain":[0.03,31.8],"nice":false,"zero":false},"axis":null},
"y":{"field":"t","type":"quantitative","scale":{"domain":[0,100],"reverse":true,"nice":false,"zero":false},"axis":{"values":[0,50,100],"title":"Time, ms","titlePadding":-2}},
"detail":{"field":"k","type":"nominal"},"order":{"field":"t","type":"quantitative"}}},
{"data":{"name":"w"},"transform":[{"filter":"datum.x >= datum.k"}],"mark":{"type":"area","orient":"horizontal","interpolate":"monotone","color":"#111","clip":true},
"encoding":{"x":{"field":"x","type":"quantitative","scale":{"domain":[0.03,31.8],"nice":false,"zero":false},"axis":null,"stack":null},"x2":{"field":"k"},
"y":{"field":"t","type":"quantitative","scale":{"domain":[0,100],"reverse":true,"nice":false,"zero":false}},
"detail":{"field":"k","type":"nominal"}}},
{"mark":{"type":"rule","color":"#999","strokeDash":[2,2],"strokeWidth":1},
"encoding":{"x":{"datum":1,"type":"quantitative","scale":{"domain":[1,31],"nice":false,"zero":false},"axis":{"values":[1,11,21,31],"title":null}},"x2":{"datum":31},"y":{"datum":50,"type":"quantitative"}}},
{"mark":{"type":"rect","fill":null,"stroke":"#888","strokeWidth":1},
"encoding":{"x":{"datum":1,"type":"quantitative","scale":{"domain":[1,31],"nice":false,"zero":false},"axis":null},"x2":{"datum":2.75},"y":{"datum":85.3,"type":"quantitative"},"y2":{"datum":100}}},
{"mark":{"type":"text","text":"(a)","fontSize":18,"color":"#222","align":"center","baseline":"middle","font":"Liberation Sans"},
"encoding":{"x":{"datum":1.87,"type":"quantitative","scale":{"domain":[1,31],"nice":false,"zero":false},"axis":null},"y":{"datum":92.5,"type":"quantitative"}}}
]},
{"width":449,"height":185,
"layer":[
{"data":{"name":"c"},"transform":[{"filter":"datum.s == 'Semblance'"}],"mark":{"type":"line","strokeWidth":2.6},
"encoding":{"x":{"field":"u","type":"quantitative","scale":{"domain":[1,31],"nice":false,"zero":false},"axis":{"values":[1,11,21,31],"title":"Trace","titlePadding":-12}},
"y":{"field":"v","type":"quantitative","scale":{"domain":[0.4,1.02],"nice":false,"zero":false},"axis":{"values":[0.4,0.6,0.8,1],"format":"~g","title":"Coherence","titlePadding":1}},
"color":{"field":"s","type":"nominal","scale":{"domain":["Semblance","Semblance modified"],"range":["#111111","#454545"]},
"legend":{"title":null,"orient":"bottom-right","offset":0,"strokeColor":"#444","fillColor":"white","padding":4,"symbolType":"M-5.6,0H5.6","symbolSize":100,"symbolStrokeWidth":2.5,"symbolOffset":26,"labelFont":"Liberation Sans","labelFontSize":13,"labelColor":"#333","labelAlign":"right","labelOffset":91,"labelLimit":300,"rowPadding":3,
"labelExpr":"datum.label == 'Semblance modified' ? ['Semblance','modified'] : datum.label"}}}},
{"data":{"name":"c"},"transform":[{"filter":"datum.s == 'Semblance modified'"}],"mark":{"type":"line","strokeWidth":2},
"encoding":{"x":{"field":"u","type":"quantitative"},"y":{"field":"v","type":"quantitative"},"color":{"field":"s","type":"nominal"}}},
{"mark":{"type":"rect","fill":null,"stroke":"#888","strokeWidth":1},
"encoding":{"x":{"datum":1,"type":"quantitative"},"x2":{"datum":2.87},"y":{"datum":0.4836,"type":"quantitative"},"y2":{"datum":0.4}}},
{"mark":{"type":"text","text":"(b)","fontSize":18,"color":"#222","align":"center","baseline":"middle","font":"Liberation Sans"},
"encoding":{"x":{"datum":1.94,"type":"quantitative"},"y":{"datum":0.442,"type":"quantitative"}}}
]}
]
}
